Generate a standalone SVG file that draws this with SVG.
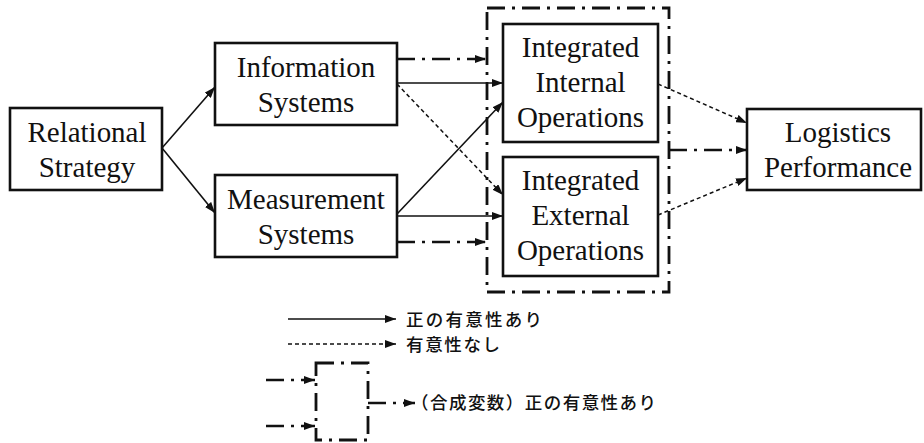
<svg xmlns="http://www.w3.org/2000/svg" width="924" height="443" viewBox="0 0 924 443">
<style>
.box{fill:#fff;stroke:#111;stroke-width:2.6}
.t{font-family:"Liberation Serif","Times New Roman",serif;font-size:29px;fill:#111;text-anchor:middle}
.j{font-family:"Noto Sans CJK JP","Noto Sans",sans-serif;font-size:17.5px;font-weight:500;fill:#111}
.solid{fill:none;stroke:#111;stroke-width:1.6;marker-end:url(#ah)}
.dot{fill:none;stroke:#111;stroke-width:1.5;stroke-dasharray:4 3;marker-end:url(#ah)}
.dd{fill:none;stroke:#111;stroke-width:2.6;stroke-dasharray:18 7 3 7;marker-end:url(#ah)}
.ddbox{fill:none;stroke:#111;stroke-width:2.8;stroke-dasharray:18 7 3 7}
</style>
<defs>
<marker id="ah" markerUnits="userSpaceOnUse" markerWidth="11" markerHeight="8" refX="11" refY="4" orient="auto">
<path d="M0,0 L11,4 L0,8 z" fill="#111"/>
</marker>
</defs>
<rect width="924" height="443" fill="#fff"/>
<g id="composite-frame">
<rect class="ddbox" x="487" y="8" width="182" height="284"/>
</g>
<g id="relational-strategy">
<rect class="box" x="10" y="108" width="152" height="82"/>
<text class="t" x="87" y="142" textLength="119" lengthAdjust="spacing">Relational</text>
<text class="t" x="87" y="177">Strategy</text>
</g>
<g id="information-systems">
<rect class="box" x="215" y="43" width="182" height="82"/>
<text class="t" x="306" y="77">Information</text>
<text class="t" x="306" y="112">Systems</text>
</g>
<g id="measurement-systems">
<rect class="box" x="215" y="175" width="182" height="82"/>
<text class="t" x="306" y="209">Measurement</text>
<text class="t" x="306" y="244">Systems</text>
</g>
<g id="integrated-internal">
<rect class="box" x="503" y="24" width="155" height="118"/>
<text class="t" x="580.5" y="57">Integrated</text>
<text class="t" x="580.5" y="92">Internal</text>
<text class="t" x="580.5" y="127">Operations</text>
</g>
<g id="integrated-external">
<rect class="box" x="503" y="157" width="155" height="119"/>
<text class="t" x="580.5" y="190">Integrated</text>
<text class="t" x="580.5" y="225">External</text>
<text class="t" x="580.5" y="260">Operations</text>
</g>
<g id="logistics-performance">
<rect class="box" x="747" y="109" width="174" height="81"/>
<text class="t" x="838" y="142">Logistics</text>
<text class="t" x="838" y="177">Performance</text>
</g>
<g id="connectors">
<line class="solid" x1="162" y1="148" x2="215" y2="87"/>
<line class="solid" x1="162" y1="148" x2="215" y2="213"/>
<line class="dd" x1="397" y1="59" x2="486" y2="59"/>
<line class="solid" x1="397" y1="83" x2="503" y2="83"/>
<line class="dot" x1="397" y1="84" x2="503" y2="195"/>
<line class="solid" x1="397" y1="214" x2="503" y2="102"/>
<line class="solid" x1="397" y1="216" x2="503" y2="216"/>
<line class="dd" x1="397" y1="242" x2="486" y2="242"/>
<line class="dot" x1="658" y1="84" x2="747" y2="123"/>
<line class="dd" x1="669" y1="150" x2="747" y2="150"/>
<line class="dot" x1="658" y1="215" x2="747" y2="178"/>
</g>
<g id="legend">
<line class="solid" x1="288" y1="319" x2="396" y2="319"/>
<line class="dot" x1="288" y1="344" x2="396" y2="344"/>
<text class="j" x="406" y="326" textLength="136" lengthAdjust="spacing">正の有意性あり</text>
<text class="j" x="406" y="351" textLength="94" lengthAdjust="spacing">有意性なし</text>
<rect class="ddbox" x="316" y="363" width="52" height="77" stroke-width="2.6"/>
<line class="dd" x1="266" y1="380" x2="315" y2="380"/>
<line class="dd" x1="266" y1="426" x2="315" y2="426"/>
<line class="dd" x1="368" y1="403" x2="415" y2="403"/>
<text class="j" x="411" y="409" textLength="245" lengthAdjust="spacing">（合成変数）正の有意性あり</text>
</g>
</svg>
